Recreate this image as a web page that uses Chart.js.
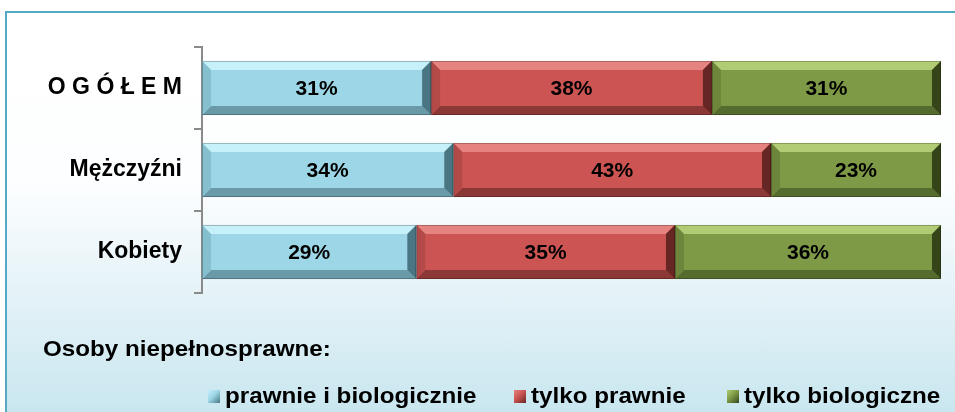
<!DOCTYPE html>
<html>
<head>
<meta charset="utf-8">
<script src="https://cdn.jsdelivr.net/npm/chart.js@4/dist/chart.umd.min.js"></script>
<style>
  html, body { margin: 0; padding: 0; background: #ffffff; }
  #wrap { position: relative; width: 955px; height: 412px; overflow: hidden; font-family: "Liberation Sans", Arial, sans-serif; }
  #bg { position: absolute; left: 5px; top: 11px; width: 980px; height: 420px;
        border-top: 2px solid #55a9c4; border-left: 2px solid #55a9c4;
        background: linear-gradient(to bottom, #ffffff 0%, #fdfeff 40%, #e3f2f7 68%, #c4e4ee 100%); }
  canvas { position: absolute; left: 0; top: 0; }
  .txt { position: absolute; font-weight: bold; font-size: 22px; line-height: 22px; color: #000; white-space: nowrap; transform-origin: left top; transform: scaleX(1.1); }
  .sq { position: absolute; width: 12px; height: 13px; }
</style>
</head>
<body>
<div id="wrap">
  <div id="bg"></div>
  <canvas id="c" width="955" height="412"></canvas>
  <div id="title" class="txt" style="left:43px; top:338px;"></div>
  <div id="legend"></div>
</div>
<script>
const categories = ['O G Ó Ł E M', 'Mężczyźni', 'Kobiety'];
const seriesNames = ['prawnie i biologicznie', 'tylko prawnie', 'tylko biologiczne'];
const prawnieIBiologicznie = [31, 34, 29];
const tylkoPrawnie = [38, 43, 35];
const tylkoBiologiczne = [31, 23, 36];
const titleText = 'Osoby niepełnosprawne:';

const palette = [
  { main: '#9dd7e7', top: '#c6f0fa', bottom: '#6a9aa8', left: '#86bfce', right: '#4a7683' },
  { main: '#cc5553', top: '#e4837f', bottom: '#8c3836', left: '#b34a48', right: '#662624' },
  { main: '#7e9a46', top: '#b2cc75', bottom: '#566b2e', left: '#6d863b', right: '#36441a' }
];

const bevelPlugin = {
  id: 'bevel',
  afterDatasetDraw(chart, args) {
    const ctx = chart.ctx;
    const meta = args.meta;
    const col = palette[args.index];
    meta.data.forEach(el => {
      const p = el.getProps(['x', 'y', 'base', 'height'], true);
      const l = Math.min(p.x, p.base), r = Math.max(p.x, p.base);
      const t = p.y - p.height / 2, b = p.y + p.height / 2;
      const bv = 9;
      const poly = (pts, c) => { ctx.beginPath(); ctx.moveTo(pts[0][0], pts[0][1]); for (let i = 1; i < pts.length; i++) ctx.lineTo(pts[i][0], pts[i][1]); ctx.closePath(); ctx.fillStyle = c; ctx.fill(); };
      ctx.save();
      poly([[l, t], [r, t], [r - bv, t + bv], [l + bv, t + bv]], col.top);
      poly([[l, b], [r, b], [r - bv, b - bv], [l + bv, b - bv]], col.bottom);
      poly([[l, t], [l + bv, t + bv], [l + bv, b - bv], [l, b]], col.left);
      poly([[r, t], [r - bv, t + bv], [r - bv, b - bv], [r, b]], col.right);
      ctx.strokeStyle = 'rgba(0,0,0,0.25)';
      ctx.lineWidth = 1;
      ctx.strokeRect(l + 0.5, t + 0.5, r - l - 1, b - t - 1);
      ctx.restore();
    });
  },
  afterDatasetsDraw(chart) {
    const ctx = chart.ctx;
    ctx.save();
    ctx.font = 'bold 21px "Liberation Sans", Arial, sans-serif';
    ctx.fillStyle = '#000';
    ctx.textAlign = 'center';
    ctx.textBaseline = 'middle';
    chart.data.datasets.forEach((ds, di) => {
      const meta = chart.getDatasetMeta(di);
      meta.data.forEach((el, i) => {
        const p = el.getProps(['x', 'y', 'base'], true);
        ctx.fillText(ds.data[i] + '%', (p.x + p.base) / 2, p.y + 1);
      });
    });
    ctx.restore();
  }
};

const seriesData = [prawnieIBiologicznie, tylkoPrawnie, tylkoBiologiczne];

new Chart(document.getElementById('c'), {
  type: 'bar',
  data: {
    labels: categories,
    datasets: seriesData.map((d, i) => ({
      label: seriesNames[i],
      data: d,
      backgroundColor: palette[i].main,
      borderWidth: 0,
      barPercentage: 0.66,
      categoryPercentage: 1
    }))
  },
  options: {
    indexAxis: 'y',
    responsive: false,
    animation: false,
    events: [],
    layout: { padding: { top: 47, right: 14, bottom: 119, left: 0 } },
    plugins: { legend: { display: false }, title: { display: false }, tooltip: { enabled: false } },
    scales: {
      x: { stacked: true, min: 0, max: 100, display: false },
      y: {
        stacked: true,
        afterFit(scale) { scale.width = 202; },
        border: { display: true, color: '#8a8a8a', width: 2 },
        grid: { display: true, drawOnChartArea: false, drawTicks: true, tickLength: 8, color: '#8a8a8a', lineWidth: 2, offset: true },
        ticks: { color: '#000', padding: 12, font: { family: '"Liberation Sans", Arial, sans-serif', size: 23, weight: 'bold' } }
      }
    }
  },
  plugins: [bevelPlugin]
});

document.getElementById('title').textContent = titleText;
const legendPos = [208, 514, 727];
const legend = document.getElementById('legend');
seriesNames.forEach((name, i) => {
  const sq = document.createElement('div');
  sq.className = 'sq';
  sq.style.left = legendPos[i] + 'px';
  sq.style.top = '390px';
  sq.style.background = 'linear-gradient(135deg, ' + palette[i].top + ' 0%, ' + palette[i].main + ' 45%, ' + palette[i].right + ' 100%)';
  legend.appendChild(sq);
  const t = document.createElement('div');
  t.className = 'txt';
  t.style.left = (legendPos[i] + 17) + 'px';
  t.style.top = '385px';
  t.textContent = name;
  legend.appendChild(t);
});
</script>
</body>
</html>
